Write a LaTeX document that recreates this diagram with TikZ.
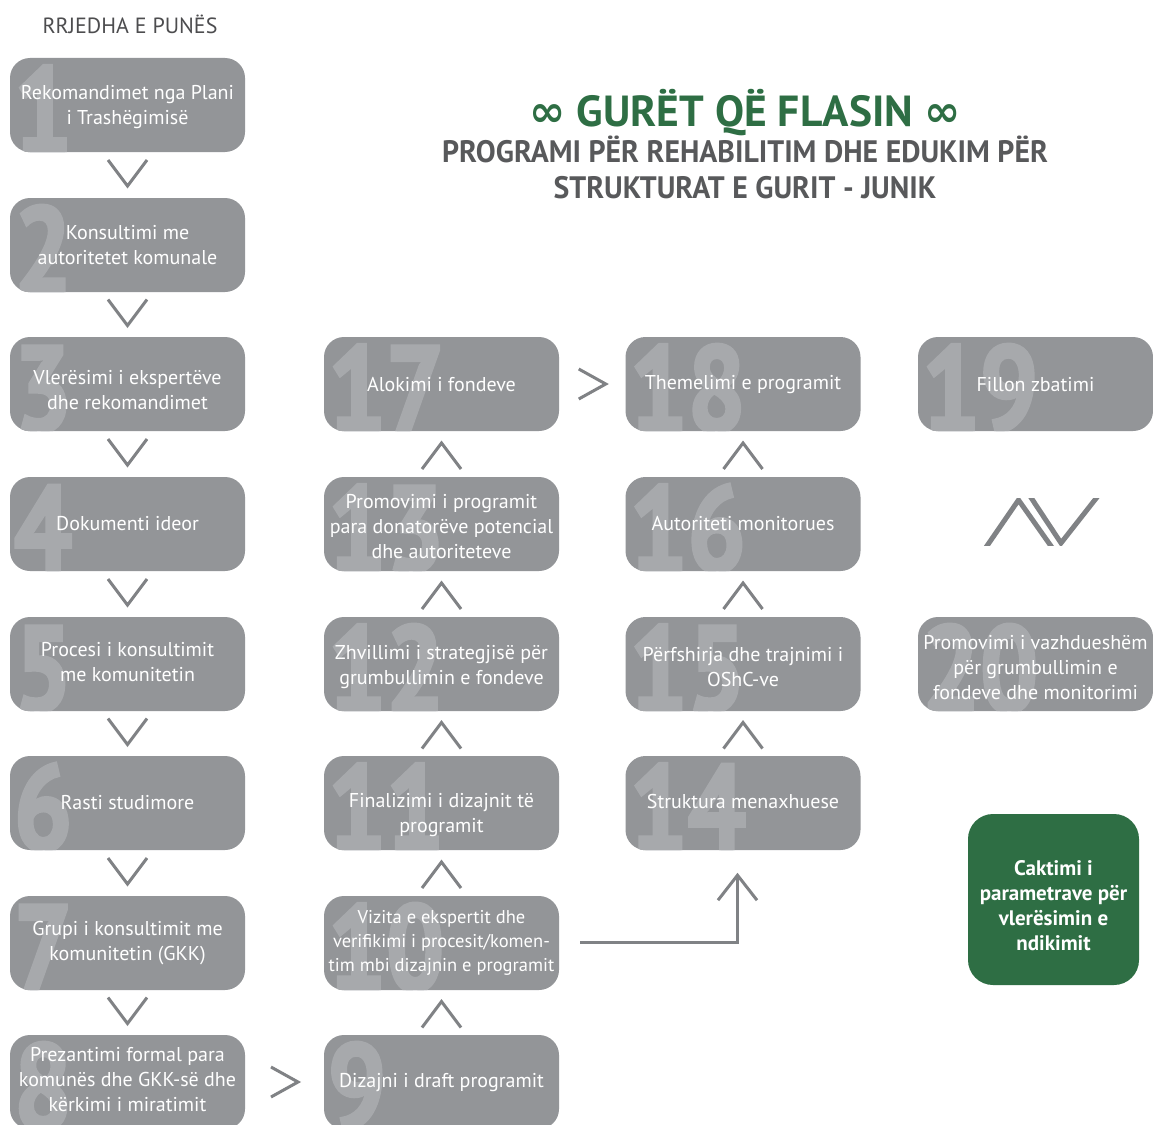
\documentclass[tikz,border=0pt]{standalone}
\usepackage{fontspec}
\setmainfont{PT Sans}
\newfontfamily\symfont{DejaVu Sans}
\newfontfamily\condfont[FakeStretch=0.96]{PT Sans}
\newfontfamily\numfont[FakeStretch=0.84, BoldFeatures={FakeBold=2.5}]{PT Sans}
\usetikzlibrary{calc}
\definecolor{boxgray}{HTML}{939598}
\definecolor{numgray}{HTML}{A7A9AC}
\definecolor{chevgray}{HTML}{808285}
\definecolor{titlegreen}{HTML}{2E6E44}
\definecolor{subgray}{HTML}{58595B}
\definecolor{hdrgray}{HTML}{4D4D4F}
\tikzset{
  bignum/.style={text=numgray, font=\numfont\bfseries\fontsize{122}{122}\selectfont, inner sep=0pt},
  stepbox/.style={fill=boxgray, rounded corners=20pt, minimum width=235pt, minimum height=94pt, inner sep=0pt},
  steptext/.style={text=white, align=center, inner sep=0pt, font=\fontsize{20}{25}\selectfont},
  greenbox/.style={fill=titlegreen, rounded corners=25pt, minimum width=171pt, minimum height=171pt,
    inner sep=0pt, text=white, align=center, font=\fontsize{21}{25}\selectfont\bfseries},
  chev/.style={draw=chevgray, line width=3pt},
}
\newcommand\stepnum[2]{\begin{scope}
  \clip[rounded corners=20pt] (#1.south west) rectangle (#1.north east);
  \node[bignum, anchor=base west] (#1num) at ([xshift=4pt]#1.south west) {#2};
\end{scope}}
\newcommand\chevdown[2]{\draw[chev] ($(#1.south)!0.5!(#2.north)$) ++(-19.5,-15) -- ++(19.5,26) -- ++(19.5,-26);}
\newcommand\chevup[2]{\draw[chev] ($(#1.north)!0.5!(#2.south)$) ++(-19.5,15) -- ++(19.5,-26) -- ++(19.5,26);}
\newcommand\chevright[2]{\draw[chev] ($(#1.east)!0.5!(#2.west)$) ++(-13.5,-15) -- ++(27,15) -- ++(-27,15);}
\begin{document}
\begin{tikzpicture}[x=1pt,y=-1pt]
\clip (0,0) rectangle (1153,1124);
\fill[white] (0,0) rectangle (1153,1124);

\node[text=hdrgray, font=\fontsize{22}{26}\selectfont, inner sep=0pt] (hdr) at (130,24) {RRJEDHA E PUNËS};

\node[text=titlegreen, font=\fontsize{43.5}{48}\selectfont\bfseries, inner sep=0pt] (title) at (745,113)
  {{\symfont\bfseries ∞} GURËT QË FLASIN {\symfont\bfseries ∞}};
\node[text=subgray, font=\condfont\bfseries\fontsize{31}{36}\selectfont, align=center, inner sep=0pt] (sub) at (745,167)
  {PROGRAMI PËR REHABILITIM DHE EDUKIM PËR\\STRUKTURAT E GURIT - JUNIK};

% boxes
\node[stepbox] (b1) at (127.5,105) {};
\node[stepbox] (b2) at (127.5,245) {};
\node[stepbox] (b3) at (127.5,384) {};
\node[stepbox] (b4) at (127.5,524) {};
\node[stepbox] (b5) at (127.5,664) {};
\node[stepbox] (b6) at (127.5,803) {};
\node[stepbox] (b7) at (127.5,943) {};
\node[stepbox] (b8) at (127.5,1082) {};
\node[stepbox] (b9) at (441.5,1082) {};
\node[stepbox] (b10) at (441.5,943) {};
\node[stepbox] (b11) at (441.5,803) {};
\node[stepbox] (b12) at (441.5,664) {};
\node[stepbox] (b13) at (441.5,524) {};
\node[stepbox] (b17) at (441.5,384) {};
\node[stepbox] (b14) at (743,803) {};
\node[stepbox] (b15) at (743,664) {};
\node[stepbox] (b16) at (743,524) {};
\node[stepbox] (b18) at (743,384) {};
\node[stepbox] (b19) at (1035.5,384) {};
\node[stepbox] (b20) at (1035.5,664) {};

% big numbers
\stepnum{b1}{1}
\stepnum{b2}{2}
\stepnum{b3}{3}
\stepnum{b4}{4}
\stepnum{b5}{5}
\stepnum{b6}{6}
\stepnum{b7}{7}
\stepnum{b8}{8}
\stepnum{b9}{9}
\stepnum{b10}{10}
\stepnum{b11}{11}
\stepnum{b12}{12}
\stepnum{b13}{13}
\stepnum{b14}{14}
\stepnum{b15}{15}
\stepnum{b16}{16}
\stepnum{b17}{17}
\stepnum{b18}{18}
\stepnum{b19}{19}
\stepnum{b20}{20}

% texts
\node[steptext] (t1) at (127.5,107) {Rekomandimet nga Plani\\i Trashëgimisë};
\node[steptext] (t2) at (127.5,245) {Konsultimi me\\autoritetet komunale};
\node[steptext] (t3) at (127.5,390) {Vlerësimi i ekspertëve\\dhe rekomandimet};
\node[steptext] (t4) at (127.5,523.5) {Dokumenti ideor};
\node[steptext] (t5) at (127.5,662) {Procesi i konsultimit\\me komunitetin};
\node[steptext] (t6) at (127.5,802.5) {Rasti studimore};
\node[steptext] (t7) at (127.5,943.5) {Grupi i konsultimit me\\komunitetin (GKK)};
\node[steptext] (t8) at (127.5,1079.5) {Prezantimi formal para\\komunës dhe GKK-së dhe\\kërkimi i miratimit};
\node[steptext] (t9) at (441.5,1082.5) {Dizajni i draft programit};
\node[steptext, font=\fontsize{18.5}{24}\selectfont] (t10) at (441.5,942.5) {Vizita e ekspertit dhe\\verifikimi i procesit/komen-\\tim mbi dizajnin e programit};
\node[steptext] (t11) at (441.5,815) {Finalizimi i dizajnit të\\programit};
\node[steptext] (t12) at (441.5,667) {Zhvillimi i strategjisë për\\grumbullimin e fondeve};
\node[steptext] (t13) at (441.5,526.5) {Promovimi i programit\\para donatorëve potencial\\dhe autoriteteve};
\node[steptext] (t17) at (441.5,384.5) {Alokimi i fondeve};
\node[steptext] (t14) at (743,801.5) {Struktura menaxhuese};
\node[steptext] (t15) at (743,667) {Përfshirja dhe trajnimi i\\OShC-ve};
\node[steptext] (t16) at (743,523.5) {Autoriteti monitorues};
\node[steptext] (t18) at (743,384.5) {Themelimi e programit};
\node[steptext] (t19) at (1035.5,384.5) {Fillon zbatimi};
\node[steptext] (t20) at (1035.5,667.5) {Promovimi i vazhdueshëm\\për grumbullimin e\\fondeve dhe monitorimi};

\node[greenbox] (g) at (1053.5,899.5) {};
\node[text=white, align=center, inner sep=0pt, font=\fontsize{21}{25}\selectfont\bfseries] (gt) at (1053.5,906) {Caktimi i\\parametrave për\\vlerësimin e\\ndikimit};

% chevrons
\chevdown{b1}{b2}
\chevdown{b2}{b3}
\chevdown{b3}{b4}
\chevdown{b4}{b5}
\chevdown{b5}{b6}
\chevdown{b6}{b7}
\chevdown{b7}{b8}
\chevright{b8}{b9}
\chevup{b9}{b10}
\chevup{b10}{b11}
\chevup{b11}{b12}
\chevup{b12}{b13}
\chevup{b13}{b17}
\chevright{b17}{b18}
\chevup{b14}{b15}
\chevup{b15}{b16}
\chevup{b16}{b18}

% connector 10 -> 14
\coordinate (c10) at ($(b10.east)+(21,-1)$);
\coordinate (a14) at ($(b14.south)+(-5.5,25)$);
\draw[chev] (c10) -| (a14);
\draw[chev] (a14) ++(-19.5,25) -- ++(19.5,-25) -- ++(19.5,25);

% double chevron between 19 and 20
\begin{scope}
  \clip (975,498.5) rectangle (1110,545.5);
  \draw[chevgray, line width=5pt, miter limit=10] (980,556) -- (1018.5,500) -- (1058,556);
  \draw[chevgray, line width=5pt, miter limit=10] (1024,487) -- (1061,543) -- (1105,487);
\end{scope}
\end{tikzpicture}
\end{document}
